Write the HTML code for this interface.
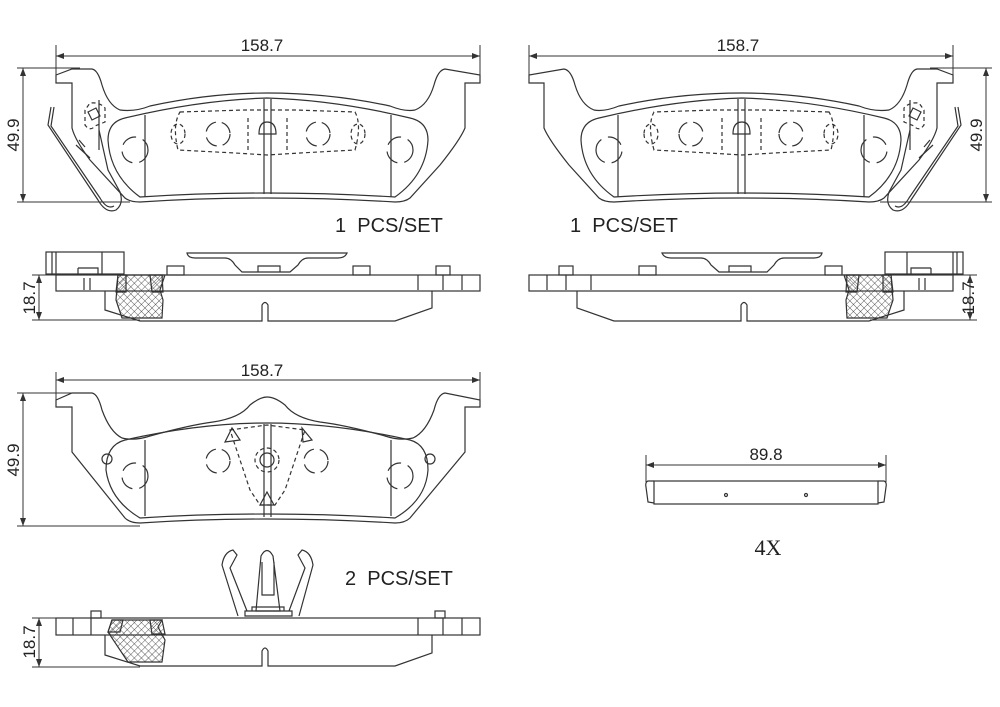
<!DOCTYPE html>
<html><head><meta charset="utf-8"><style>
html,body{margin:0;padding:0;background:#fff;}
svg{display:block;}
text{font-family:"Liberation Sans",sans-serif;fill:#222;}
</style></head><body>
<svg width="1000" height="707" viewBox="0 0 1000 707" xmlns="http://www.w3.org/2000/svg">
<defs>
<pattern id="hx" width="5" height="5" patternUnits="userSpaceOnUse" patternTransform="rotate(45)">
<path d="M0,0 L0,5 M0,0 L5,0" stroke="#333" stroke-width="0.8"/>
</pattern>
<pattern id="hs" width="4" height="4" patternUnits="userSpaceOnUse" patternTransform="rotate(45)">
<path d="M0,0 L0,4" stroke="#333" stroke-width="0.8"/>
</pattern>
<marker id="ar" markerWidth="8" markerHeight="6" refX="8" refY="3" orient="auto" markerUnits="userSpaceOnUse">
<path d="M0,0 L8,3 L0,6" fill="#333"/>
</marker>
<g id="padTop" fill="none" stroke="#333" stroke-width="1.2">
<path d="M56,75 L72,69 L92,69 Q98,70 102,85 Q108,105 120,110 Q135,112 150,106 Q210,93 267,93 Q330,93 390,106 Q405,112 415,110 Q428,105 434,85 Q438,70 445,69 L480,75 L480,83 L465,83 L465,128 Q460,140 440,165 L410,198 Q405,202 395,202 Q330,198 267,198 Q200,198 140,202 Q130,202 125,198 L90,160 Q75,140 72,128 L72,83 L56,83 Z"/>
<path d="M140,197 Q110,175 108,140 Q108,122 125,118 Q200,100 267,98 Q335,100 410,118 Q428,122 428,140 Q426,175 395,197 Q330,193 267,193 Q200,193 140,197Z"/>
<path d="M145,115 V197 M391,115 V197 M264,99 V194 M271,99 V194"/>
<g stroke-dasharray="4,3">
<path d="M180,112 L245,110 L295,110 L355,112 Q362,125 355,150 L300,153 L267,155 L235,153 L178,150 Q172,125 180,112Z"/>
<path d="M248,118 V150 M287,118 V150"/>
<ellipse cx="178" cy="134" rx="7" ry="10"/><ellipse cx="358" cy="134" rx="7" ry="10"/>
<path d="M85,110 V125 Q90,132 95,126 L105,122 V108 Q100,102 90,103Z"/>
</g>
<circle cx="218" cy="134" r="12" stroke-dasharray="14,6"/>
<circle cx="318" cy="134" r="12" stroke-dasharray="14,6"/>
<circle cx="135" cy="150" r="13" stroke-dasharray="16,7"/>
<circle cx="400" cy="150" r="13" stroke-dasharray="16,7"/>
<path d="M259,134 Q259,122 267,122 Q276,122 276,134Z"/>
<path d="M88,112 L96,108 L100,116 L92,120Z"/>
<path d="M51,107 L48,125 L98,200 Q106,214 116,210 Q124,204 120,192 L108,170 L99,130 L99,130"/>
<path d="M54,107 L51,126 L100,198 Q107,210 114,206"/>
<path d="M99,130 V100 M99,150 V130"/>
<path d="M79,140 L85,147 M76,145 L90,158"/>
</g>
<g id="sideTop" fill="none" stroke="#333" stroke-width="1.2">
<rect x="56" y="275" width="424" height="16"/>
<path d="M105,291 V310 L140,321 H262 V305 Q265,300 268,305 V321 H395 L432,308 V291"/>
<path d="M118,275 L116,300 L122,318 H162 L163,300 L160,290 L165,275Z" fill="url(#hx)"/>
<path d="M118,275 L116,292 L126,292 L126,275Z M150,275 L152,292 L163,292 L162,275Z" fill="url(#hs)"/>
<rect x="46" y="252" width="78" height="22"/>
<path d="M52,252 V274 M56,252 V274 M102,252 V274 M78,268 V275 M78,268 H98 V275"/>
<path d="M84,278 V290 M90,278 V290"/>
<path d="M187,253 H347 Q345,258 338,258 H308 Q302,258 298,265 L290,272 H242 L235,265 Q231,258 225,258 H195 Q188,258 187,253Z"/>
<path d="M258,272 V266 H280 V272"/>
<rect x="167" y="266" width="17" height="9"/>
<rect x="353" y="266" width="17" height="9"/>
<rect x="436" y="266" width="14" height="9"/>
<path d="M418,275 V290 M443,275 V290 M462,275 V290"/>
</g>
</defs>

<use href="#padTop"/>
<use href="#sideTop"/>
<use href="#padTop" transform="translate(1009,0) scale(-1,1)"/>
<use href="#sideTop" transform="translate(1009,0) scale(-1,1)"/>

<g stroke="#333" stroke-width="1" fill="none">
<path d="M56,45 V75 M480,45 V75 M56,56 H480" marker-end="url(#ar)"/>
<path d="M480,56 H56" marker-end="url(#ar)"/>
<path d="M17,68 H80 M17,202 H130 M23,68 V202" marker-end="url(#ar)"/>
<path d="M23,202 V68" marker-end="url(#ar)"/>
<path d="M32,275 H56 M32,320 H140 M39,275 V320" marker-end="url(#ar)"/>
<path d="M39,320 V275" marker-end="url(#ar)"/>

<path d="M529,45 V75 M953,45 V75 M529,56 H953" marker-end="url(#ar)"/>
<path d="M953,56 H529" marker-end="url(#ar)"/>
<path d="M930,68 H992 M880,202 H992 M986,68 V202" marker-end="url(#ar)"/>
<path d="M986,202 V68" marker-end="url(#ar)"/>
<path d="M953,275 H977 M870,320 H977 M970,275 V320" marker-end="url(#ar)"/>
<path d="M970,320 V275" marker-end="url(#ar)"/>
</g>
<text x="262" y="51" font-size="17" text-anchor="middle">158.7</text>
<text x="738" y="51" font-size="17" text-anchor="middle">158.7</text>
<text transform="translate(19,135) rotate(-90)" font-size="17" text-anchor="middle">49.9</text>
<text transform="translate(982,135) rotate(-90)" font-size="17" text-anchor="middle">49.9</text>
<text transform="translate(35,298) rotate(-90)" font-size="17" text-anchor="middle">18.7</text>
<text transform="translate(974,298) rotate(-90)" font-size="17" text-anchor="middle">18.7</text>
<text x="335" y="232" font-size="20" xml:space="preserve">1  PCS/SET</text>
<text x="570" y="232" font-size="20" xml:space="preserve">1  PCS/SET</text>

<g fill="none" stroke="#333" stroke-width="1.2">
<path d="M56,400 L72,393 L92,393 Q98,394 102,410 Q110,432 122,438 Q135,441 150,436 Q190,425 213,422 Q240,418 250,405 Q260,397 267,397 Q275,397 285,405 Q295,418 320,422 Q345,425 385,436 Q400,441 413,438 Q426,432 434,410 Q438,394 445,393 L480,400 L480,407 L465,407 L465,452 L410,518 Q405,523 395,523 Q330,519 267,519 Q200,519 140,523 Q130,523 125,518 L72,452 L72,407 L56,407 Z"/>
<path d="M140,518 Q110,500 106,470 Q106,445 125,440 Q200,423 267,423 Q335,423 410,440 Q428,445 428,470 Q426,500 395,518 Q330,514 267,514 Q200,514 140,518Z"/>
<path d="M145,440 V516 M391,440 V516 M264,424 V517 M271,424 V517"/>
<g stroke-dasharray="4,3">
<path d="M230,430 L267,425 L305,430 L295,460 L285,490 L275,505 H260 L250,490 L240,460Z"/>
<circle cx="267" cy="460" r="12"/>
</g>
<circle cx="267" cy="460" r="7"/>
<path d="M225,442 L232,428 L240,440Z M303,442 L302,428 L312,440Z M260,505 L267,492 L274,505Z"/>
<circle cx="218" cy="461" r="12" stroke-dasharray="14,6"/>
<circle cx="316" cy="461" r="12" stroke-dasharray="14,6"/>
<circle cx="135" cy="476" r="13" stroke-dasharray="16,7"/>
<circle cx="400" cy="476" r="13" stroke-dasharray="16,7"/>
<circle cx="107" cy="459" r="5"/><circle cx="430" cy="459" r="5"/>

<rect x="56" y="618" width="424" height="17"/>
<path d="M105,635 V655 L140,666 H262 V651 Q265,645 268,651 V666 H395 L432,653 V635"/>
<path d="M112,620 L108,632 L128,662 H162 L165,640 L158,627 L162,620Z" fill="url(#hx)"/>
<path d="M112,620 L108,632 L120,632 L123,620Z M150,620 L152,634 L165,634 L162,620Z" fill="url(#hs)"/>
<rect x="91" y="611" width="10" height="7"/><rect x="435" y="611" width="10" height="7"/>
<path d="M73,618 V635 M91,618 V635 M418,618 V635 M443,618 V635 M462,618 V635"/>
<path d="M238,616 L222,565 Q224,552 233,550 L237,555 L230,568 L247,611 M299,616 L313,565 Q311,552 302,550 L298,555 L305,568 L289,611"/>
<path d="M256,611 L261,556 Q267,545 273,556 L280,611Z M262,562 V595 H274 V562"/>
<path d="M245,611 H292 V616 H245Z M252,611 V607 H284 V611"/>

<g stroke-width="1">
<path d="M56,372 V400 M480,372 V400 M56,380 H480" marker-end="url(#ar)"/>
<path d="M480,380 H56" marker-end="url(#ar)"/>
<path d="M17,393 H80 M17,526 H140 M23,393 V526" marker-end="url(#ar)"/>
<path d="M23,526 V393" marker-end="url(#ar)"/>
<path d="M32,618 H56 M32,667 H140 M39,618 V667" marker-end="url(#ar)"/>
<path d="M39,667 V618" marker-end="url(#ar)"/>
<path d="M646,455 V482 M886,455 V482 M646,465 H886" marker-end="url(#ar)"/>
<path d="M886,465 H646" marker-end="url(#ar)"/>
</g>

<rect x="654" y="481" width="224" height="23"/>
<path d="M654,481 H648 Q645,482 646,487 L648,502 L654,503 M878,481 H884 Q887,482 886,487 L884,502 L878,503"/>
<circle cx="726" cy="495" r="1.5"/><circle cx="806" cy="495" r="1.5"/>
</g>
<text x="262" y="376" font-size="17" text-anchor="middle">158.7</text>
<text transform="translate(19,460) rotate(-90)" font-size="17" text-anchor="middle">49.9</text>
<text transform="translate(35,642) rotate(-90)" font-size="17" text-anchor="middle">18.7</text>
<text x="345" y="585" font-size="20" xml:space="preserve">2  PCS/SET</text>
<text x="766" y="460" font-size="17" text-anchor="middle">89.8</text>
<text x="768" y="555" font-size="22" text-anchor="middle" style="font-family:'Liberation Serif',serif">4X</text>
</svg>
</body></html>
